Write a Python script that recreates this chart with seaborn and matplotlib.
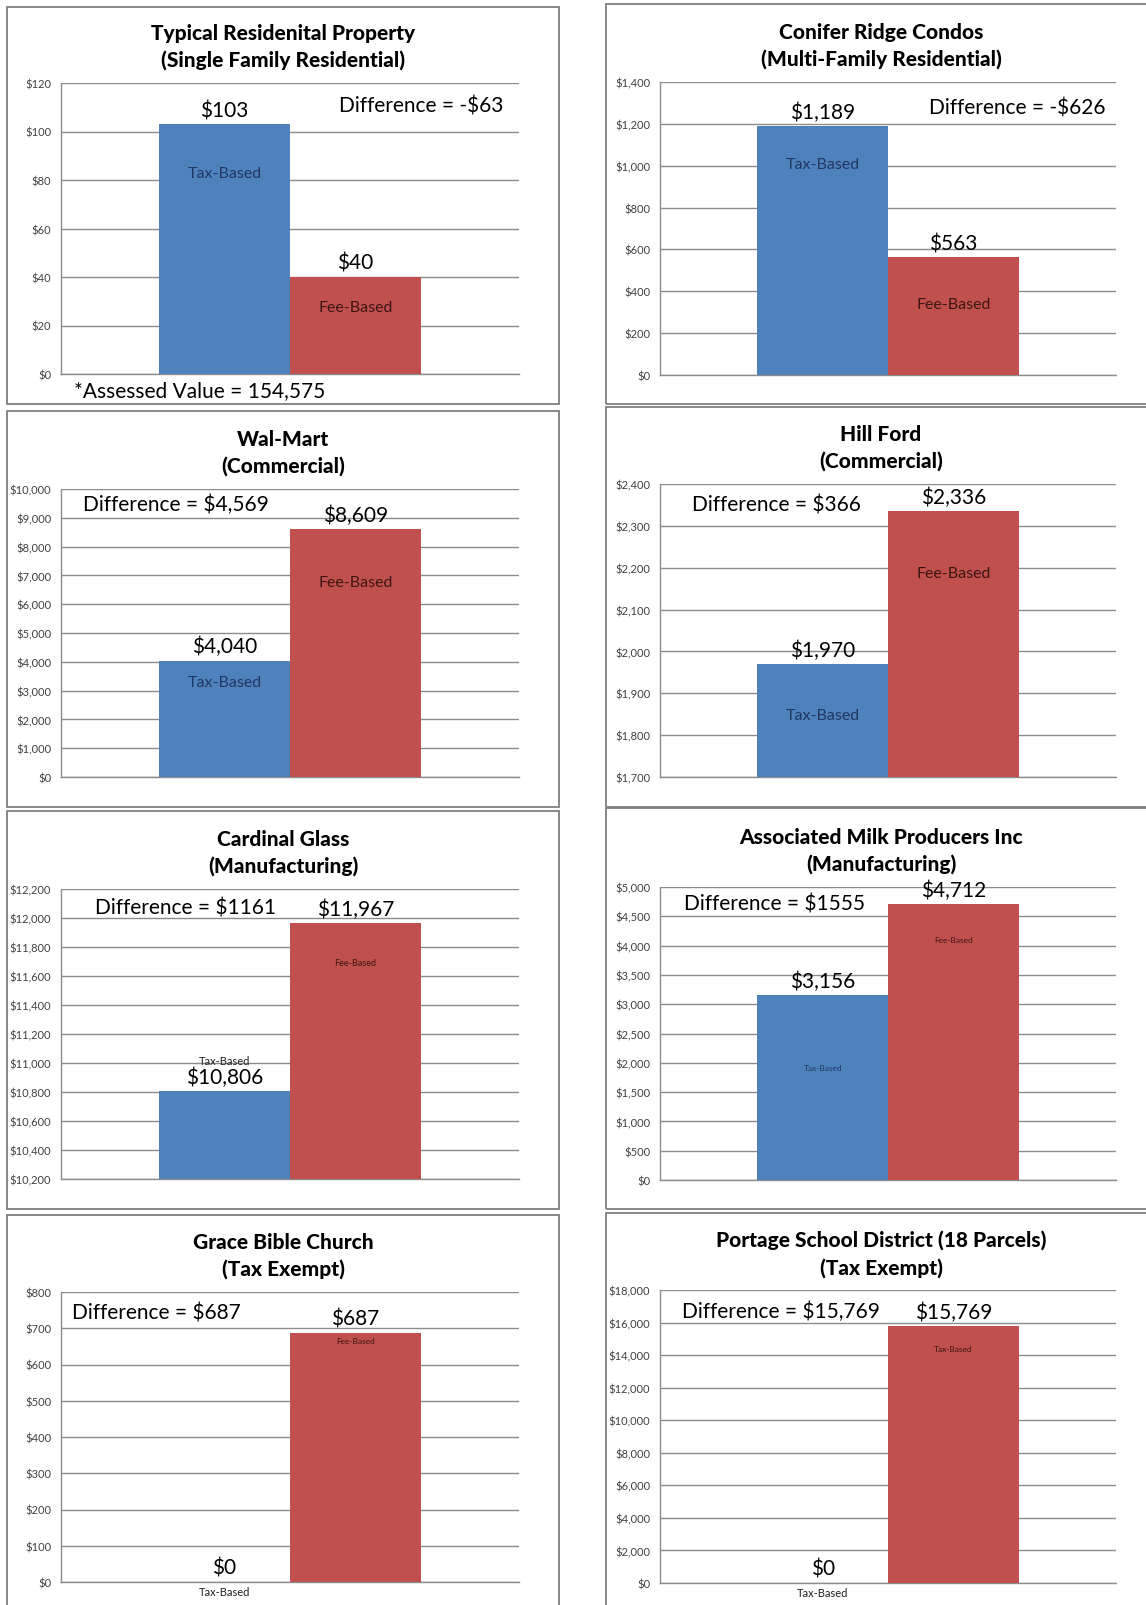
import pandas as pd
import seaborn as sns
import matplotlib.pyplot as plt
from matplotlib.patches import Rectangle
from matplotlib.ticker import FuncFormatter, MultipleLocator

# chart values
titles = ["Typical Residenital Property", "Conifer Ridge Condos",
          "Wal-Mart", "Hill Ford",
          "Cardinal Glass", "Associated Milk Producers Inc",
          "Grace Bible Church", "Portage School District (18 Parcels)"]
subtitles = ["(Single Family Residential)", "(Multi-Family Residential)",
             "(Commercial)", "(Commercial)",
             "(Manufacturing)", "(Manufacturing)",
             "(Tax Exempt)", "(Tax Exempt)"]
basis = ["Tax-Based", "Fee-Based"]
tax_values = [103, 1189, 4040, 1970, 10806, 3156, 0, 0]
fee_values = [40, 563, 8609, 2336, 11967, 4712, 687, 15769]
differences = ["Difference = -$63", "Difference = -$626", "Difference = $4,569",
               "Difference = $366", "Difference = $1161", "Difference = $1555",
               "Difference = $687", "Difference = $15,769"]
y_min = [0, 0, 0, 1700, 10200, 0, 0, 0]
y_max = [120, 1400, 10000, 2400, 12200, 5000, 800, 18000]
y_step = [20, 200, 1000, 100, 200, 500, 100, 2000]
tax_bar_text = ["Tax-Based"] * 8
fee_bar_text = ["Fee-Based"] * 7 + ["Tax-Based"]
footnote = "*Assessed Value = 154,575"

# layout (pixels in a 1146 x 1606 figure)
W, H = 1146, 1606
col_x = [(61, 519), (660, 1116)]
row_y = [[(84, 375), (83, 376)], [(490, 778), (485, 778)],
         [(890, 1180), (888, 1181)], [(1293, 1583), (1291, 1584)]]
panel_x = [(7, 559), (606, 1152)]
panel_y = [[(8, 405), (5, 405)], [(412, 808), (408, 808)],
           [(812, 1210), (809, 1210)], [(1216, 1612), (1214, 1612)]]
title_x = [283, 881]
diff_pos = [(0.608, 0.923), (0.591, 0.913), (0.047, 0.950), (0.070, 0.930),
            (0.074, 0.936), (0.052, 0.944), (0.025, 0.929), (0.049, 0.930)]
tax_text_y = [0.690, 0.720, 0.330, 0.213, 0.410, 0.385, -0.032, -0.031]
fee_text_y = [0.229, 0.241, 0.677, 0.696, 0.746, 0.822, 0.834, 0.800]
tax_text_size = [11.5, 11.5, 11.5, 11.5, 8, 6, 8, 8]
fee_text_size = [11.5, 11.5, 11.5, 11.5, 6.5, 6, 6, 6]

blue = "#4f81bd"
red = "#c0504d"
grid_gray = "#8c8c8c"

sns.set_style("white")
plt.rcParams["font.family"] = ["Lato", "DejaVu Sans"]

fig = plt.figure(figsize=(W / 100, H / 100), dpi=100)


def px_rect(l, r, t, b):
    return [l / W, 1 - b / H, (r - l) / W, (b - t) / H]


money = FuncFormatter(lambda v, p: f"${v:,.0f}")

for i in range(8):
    row, col = divmod(i, 2)
    px0, px1 = panel_x[col]
    py0, py1 = panel_y[row][col]
    fig.patches.append(Rectangle((px0 / W, 1 - py1 / H), (px1 - px0) / W, (py1 - py0) / H,
                                 transform=fig.transFigure, fill=False,
                                 edgecolor="#7f7f7f", linewidth=1.3))

    l, r = col_x[col]
    t, b = row_y[row][col]
    ax = fig.add_axes(px_rect(l, r, t, b))

    df = pd.DataFrame({"group": ["", ""], "basis": basis,
                       "value": [tax_values[i], fee_values[i]]})
    sns.barplot(data=df, x="group", y="value", hue="basis", hue_order=basis,
                palette=[blue, red], saturation=1, width=0.573, legend=False,
                errorbar=None, ax=ax, zorder=3, linewidth=0, edgecolor="none")
    ax.set_xlim(-0.5, 0.5)
    ax.set_ylim(y_min[i], y_max[i])
    ax.yaxis.set_major_locator(MultipleLocator(y_step[i]))
    ax.yaxis.set_major_formatter(money)
    ax.set_xlabel("")
    ax.set_ylabel("")
    ax.set_xticks([])
    ax.set_axisbelow(True)
    ax.yaxis.grid(True, color=grid_gray, linewidth=1.0)
    for s in ["top", "right"]:
        ax.spines[s].set_visible(False)
    for s in ["left", "bottom"]:
        ax.spines[s].set_color(grid_gray)
        ax.spines[s].set_linewidth(1.0)
    ax.tick_params(axis="y", direction="out", length=4, width=1, color=grid_gray,
                   labelsize=8, labelcolor="#404040", pad=3)

    # value labels above bars
    for cont, v in zip(ax.containers, [tax_values[i], fee_values[i]]):
        ax.bar_label(cont, labels=[f"${v:,}"], padding=3, fontsize=15, color="black")

    # names inside the bars
    xs = [p.get_x() + p.get_width() / 2 for p in ax.patches[:2]]
    ax.text(xs[0], tax_text_y[i], tax_bar_text[i], transform=ax.get_xaxis_transform(),
            ha="center", va="center", fontsize=tax_text_size[i],
            color="#1f3864" if tax_text_y[i] > 0.2 and i != 4 else "#202020")
    ax.text(xs[1], fee_text_y[i], fee_bar_text[i], transform=ax.get_xaxis_transform(),
            ha="center", va="center", fontsize=fee_text_size[i], color="#3e1412")

    ax.text(diff_pos[i][0], diff_pos[i][1], differences[i], transform=ax.transAxes,
            ha="left", va="center", fontsize=15, color="black")

    fig.text(title_x[col] / W, 1 - (t - 37) / H, titles[i] + "\n" + subtitles[i],
             ha="center", va="center", fontsize=15, fontweight="black",
             linespacing=1.45, color="black")

    if i == 0:
        ax.text(0.029, -0.056, footnote, transform=ax.transAxes, ha="left",
                va="center", fontsize=15, color="black")

fig.savefig("out.png", dpi=100, facecolor="white")
